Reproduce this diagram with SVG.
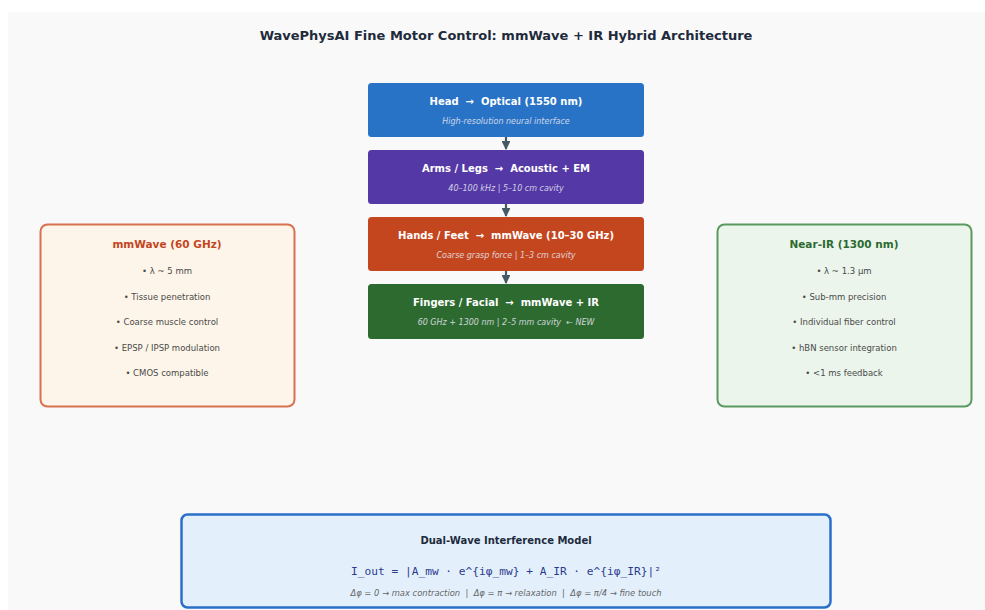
<svg xmlns="http://www.w3.org/2000/svg" width="985" height="610" viewBox="0 0 985 610">
<defs>
<marker id="ah" viewBox="0 0 10 10" refX="9" refY="5" markerWidth="4" markerHeight="4" orient="auto">
<path d="M0,0 L10,5 L0,10 z" fill="#455a64"/>
</marker>
<style>
text{font-family:"DejaVu Sans","Liberation Sans",sans-serif;text-anchor:middle;white-space:pre}
.title{font-size:13px;font-weight:bold;fill:#1e2b3c}
.lt{font-size:10px;font-weight:bold;fill:#ffffff}
.ls{font-size:8px;font-style:italic;fill:#e6e6f0;opacity:0.85}
.ct{font-size:10.5px;font-weight:bold}
.b{font-size:8.5px;fill:#4a4a4a}
.conn{stroke:#455a64;stroke-width:2.2;fill:none}
</style>
</defs>
<rect x="0" y="0" width="985" height="610" fill="#ffffff"/>
<rect x="8" y="12" width="977" height="598" fill="#f9f9f9"/>
<text class="title" x="506" y="40">WavePhysAI Fine Motor Control: mmWave + IR Hybrid Architecture</text>

<g id="connectors">
<line class="conn" x1="506" y1="137" x2="506" y2="149" marker-end="url(#ah)"/>
<line class="conn" x1="506" y1="204" x2="506" y2="216" marker-end="url(#ah)"/>
<line class="conn" x1="506" y1="271" x2="506" y2="283" marker-end="url(#ah)"/>
</g>

<g id="head">
<rect x="368" y="83" width="276" height="54" rx="3.5" fill="#2873c6"/>
<text class="lt" x="506" y="105" xml:space="preserve">Head  →  Optical (1550 nm)</text>
<text class="ls" x="506" y="124">High-resolution neural interface</text>
</g>
<g id="arms">
<rect x="368" y="150" width="276" height="54" rx="3.5" fill="#5438a6"/>
<text class="lt" x="506" y="172" xml:space="preserve">Arms / Legs  →  Acoustic + EM</text>
<text class="ls" x="506" y="191">40–100 kHz | 5–10 cm cavity</text>
</g>
<g id="hands">
<rect x="368" y="217" width="276" height="54" rx="3.5" fill="#c4461f"/>
<text class="lt" x="506" y="239" xml:space="preserve">Hands / Feet  →  mmWave (10–30 GHz)</text>
<text class="ls" x="506" y="258">Coarse grasp force | 1–3 cm cavity</text>
</g>
<g id="fingers">
<rect x="368" y="284" width="276" height="55" rx="3.5" fill="#2d6a30"/>
<text class="lt" x="506" y="306" xml:space="preserve">Fingers / Facial  →  mmWave + IR</text>
<text class="ls" x="506" y="325" xml:space="preserve">60 GHz + 1300 nm | 2–5 mm cavity  ← NEW</text>
</g>

<g id="mmwave">
<rect x="40.5" y="224.5" width="254" height="182" rx="7" fill="#fdf5e9" stroke="#d8714f" stroke-width="2"/>
<text class="ct" x="167" y="248" fill="#c4461f">mmWave (60 GHz)</text>
<text class="b" x="167" y="274">• λ ~ 5 mm</text>
<text class="b" x="167" y="300">• Tissue penetration</text>
<text class="b" x="167" y="325">• Coarse muscle control</text>
<text class="b" x="167" y="351">• EPSP / IPSP modulation</text>
<text class="b" x="167" y="376">• CMOS compatible</text>
</g>
<g id="nearir">
<rect x="717.5" y="224.5" width="254" height="182" rx="7" fill="#ebf5ec" stroke="#5b9a5e" stroke-width="2"/>
<text class="ct" x="844" y="248" fill="#2d6a30">Near-IR (1300 nm)</text>
<text class="b" x="844" y="274">• λ ~ 1.3 μm</text>
<text class="b" x="844" y="300">• Sub-mm precision</text>
<text class="b" x="844" y="325">• Individual fiber control</text>
<text class="b" x="844" y="351">• hBN sensor integration</text>
<text class="b" x="844" y="376">• &lt;1 ms feedback</text>
</g>

<g id="model">
<rect x="181.5" y="514.5" width="649" height="93" rx="6" fill="#e3f0fc" stroke="#2a70c8" stroke-width="2.5"/>
<text x="506" y="544" style="font-size:10px;font-weight:bold;fill:#1e2b3c">Dual-Wave Interference Model</text>
<text x="506" y="575" style="font-family:'DejaVu Sans Mono','Liberation Mono',monospace;font-size:11.2px;fill:#2b3a8e">I_out = |A_mw · e^{iφ_mw} + A_IR · e^{iφ_IR}|²</text>
<text x="506" y="596" xml:space="preserve" style="font-size:8.4px;font-style:italic;fill:#666666">Δφ = 0 → max contraction  |  Δφ = π → relaxation  |  Δφ = π/4 → fine touch</text>
</g>
</svg>
